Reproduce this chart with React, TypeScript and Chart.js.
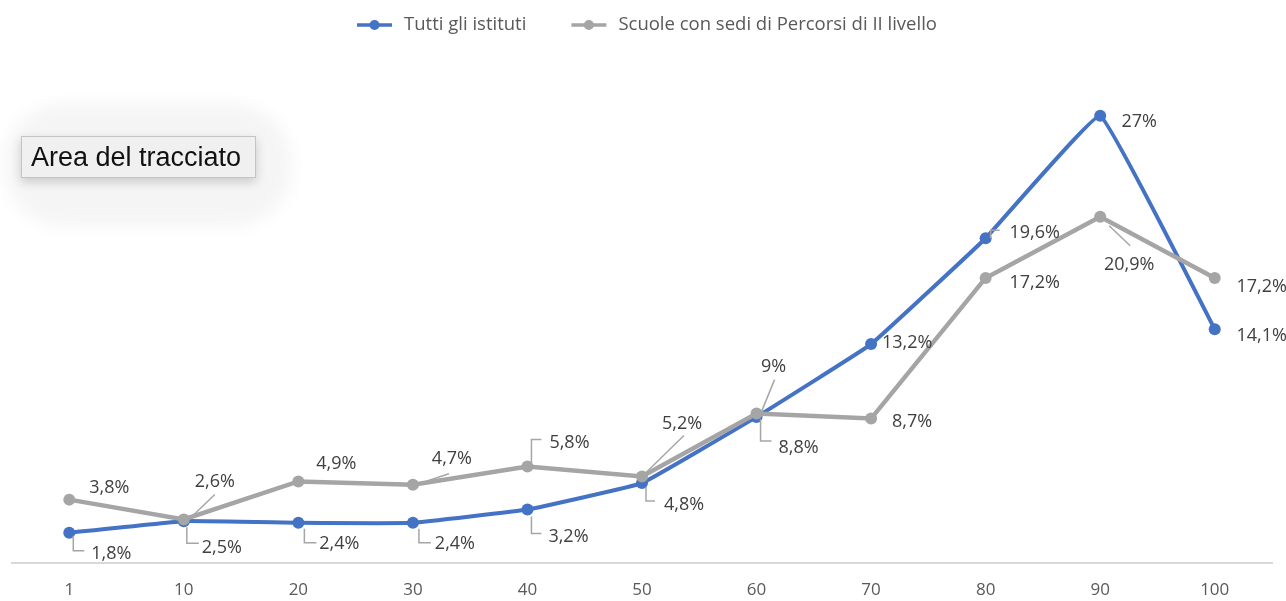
import { useEffect, useRef } from "react";
import { Chart, registerables } from "chart.js";

Chart.register(...registerables);

// ---- data ----
const categories = ["1", "10", "20", "30", "40", "50", "60", "70", "80", "90", "100"];
const tuttiValues = [1.8, 2.5, 2.4, 2.4, 3.2, 4.8, 8.8, 13.2, 19.6, 27, 14.1];
const scuoleValues = [3.8, 2.6, 4.9, 4.7, 5.8, 5.2, 9, 8.7, 17.2, 20.9, 17.2];
const seriesNames = ["Tutti gli istituti", "Scuole con sedi di Percorsi di II livello"];
const seriesColors = ["#4472C4", "#A5A5A5"];
const overlayText = "Area del tracciato";

// ---- data label layout (offsets relative to each point) ----
type LabelLayout = { dx: number; dy: number; leader?: number[][] };
const tuttiLabels: LabelLayout[] = [
  { dx: 42, dy: 21, leader: [[4, 3], [4, 18], [15, 18]] },
  { dx: 38, dy: 27, leader: [[3, 6], [3, 22], [15, 22]] },
  { dx: 41, dy: 21, leader: [[6, 6], [6, 20], [18, 20]] },
  { dx: 42, dy: 21, leader: [[6, 6], [6, 20], [18, 20]] },
  { dx: 41, dy: 27, leader: [[4, 7], [4, 24], [14, 24]] },
  { dx: 42, dy: 22, leader: [[4, 4], [4, 18], [13, 18]] },
  { dx: 42, dy: 31, leader: [[4, 2], [4, 24], [15, 24]] },
  { dx: 36, dy: -1 },
  { dx: 49, dy: -5, leader: [[5, 0], [5, -8], [14, -8]] },
  { dx: 39, dy: 6 },
  { dx: 47, dy: 7 },
];
const scuoleLabels: LabelLayout[] = [
  { dx: 40, dy: -12 },
  { dx: 31, dy: -38, leader: [[5, 0], [31, -25]] },
  { dx: 38, dy: -18 },
  { dx: 39, dy: -26, leader: [[6, -1], [36, -11]] },
  { dx: 42, dy: -24, leader: [[4, -4], [4, -27], [14, -27]] },
  { dx: 40, dy: -53, leader: [[3, -3], [42, -41]] },
  { dx: 17, dy: -47, leader: [[5, -2], [18, -34]] },
  { dx: 41, dy: 3 },
  { dx: 49, dy: 5 },
  { dx: 29, dy: 48, leader: [[9, 9], [30, 29]] },
  { dx: 47, dy: 9 },
];
const labelLayouts = [tuttiLabels, scuoleLabels];

const fmt = (v: number) => String(v).replace(".", ",") + "%";

const LABEL_FONT = '18px "Open Sans"';
const LEGEND_FONT = '18.5px "Open Sans"';

const pointLabelPlugin = {
  id: "pointLabels",
  afterDatasetsDraw(chart: any) {
    const ctx = chart.ctx as CanvasRenderingContext2D;
    ctx.save();
    chart.data.datasets.forEach((ds: any, di: number) => {
      const meta = chart.getDatasetMeta(di);
      const layout = labelLayouts[di];
      meta.data.forEach((pt: any, i: number) => {
        const L = layout[i];
        if (!L) return;
        const x = pt.x;
        const y = pt.y;
        if (L.leader) {
          ctx.strokeStyle = "#A6A6A6";
          ctx.lineWidth = 1.5;
          ctx.beginPath();
          L.leader.forEach(([dx, dy], k) => {
            if (k === 0) ctx.moveTo(x + dx, y + dy);
            else ctx.lineTo(x + dx, y + dy);
          });
          ctx.stroke();
        }
        ctx.fillStyle = "#404040";
        ctx.font = LABEL_FONT;
        ctx.textAlign = "center";
        ctx.textBaseline = "middle";
        ctx.fillText(fmt(ds.data[i]), x + L.dx, y + L.dy);
      });
    });
    ctx.restore();
  },
};

// custom legend: line + dot sample followed by the series name
const legendPlugin = {
  id: "lineLegend",
  afterDraw(chart: any) {
    const ctx = chart.ctx as CanvasRenderingContext2D;
    ctx.save();
    ctx.font = LEGEND_FONT;
    const sampleW = 35;
    const gapText = 12;
    const gapItem = 45;
    const names = chart.data.datasets.map((d: any) => d.label as string);
    const widths = names.map((n: string) => ctx.measureText(n).width);
    const total = widths.reduce((a: number, w: number) => a + sampleW + gapText + w, 0) + gapItem * (names.length - 1);
    let x = 647 - total / 2;
    const y = 25;
    names.forEach((n: string, i: number) => {
      const color = chart.data.datasets[i].borderColor;
      ctx.strokeStyle = color;
      ctx.lineWidth = 3.5;
      ctx.beginPath();
      ctx.moveTo(x, y);
      ctx.lineTo(x + sampleW, y);
      ctx.stroke();
      ctx.fillStyle = color;
      ctx.beginPath();
      ctx.arc(x + sampleW / 2, y, 5, 0, Math.PI * 2);
      ctx.fill();
      ctx.fillStyle = "#595959";
      ctx.textAlign = "left";
      ctx.textBaseline = "middle";
      ctx.fillText(n, x + sampleW + gapText, y);
      x += sampleW + gapText + widths[i] + gapItem;
    });
    ctx.restore();
  },
};

export default function App() {
  const ref = useRef<HTMLCanvasElement | null>(null);

  useEffect(() => {
    if (!ref.current) return;
    const chart = new Chart(ref.current, {
      type: "line",
      data: {
        labels: categories,
        datasets: [
          {
            label: seriesNames[0],
            data: tuttiValues,
            borderColor: seriesColors[0],
            backgroundColor: seriesColors[0],
            borderWidth: 4,
            pointRadius: 6,
            pointBorderWidth: 0,
            tension: 0.07,
            order: 1,
          },
          {
            label: seriesNames[1],
            data: scuoleValues,
            borderColor: seriesColors[1],
            backgroundColor: seriesColors[1],
            borderWidth: 4.5,
            pointRadius: 6,
            pointBorderWidth: 0,
            tension: 0,
            order: 0,
          },
        ],
      },
      options: {
        responsive: false,
        animation: false,
        events: [],
        layout: { padding: { left: 12, right: 14, top: 43, bottom: -17.5 } },
        plugins: {
          tooltip: { enabled: false },
          legend: { display: false },
        },
        scales: {
          x: {
            offset: true,
            grid: { display: false, drawTicks: false },
            border: { display: true, color: "#D9D9D9", width: 2 },
            ticks: {
              color: "#595959",
              font: { family: "Open Sans", size: 17, lineHeight: 1 },
              padding: 19.5,
            },
          },
          y: {
            display: false,
            min: 0,
            max: 31.4,
          },
        },
      },
      plugins: [pointLabelPlugin, legendPlugin],
    });
    return () => chart.destroy();
  }, []);

  return (
    <div style={{ position: "absolute", left: 0, top: 0, width: 1286, height: 601, background: "#fff" }}>
      <canvas ref={ref} width={1286} height={601} style={{ display: "block" }} />
      <div
        style={{
          position: "absolute",
          left: 4,
          top: 104,
          width: 288,
          height: 122,
          borderRadius: 60,
          background: "#f5f5f5",
          filter: "blur(8px)",
          pointerEvents: "none",
        }}
      />
      <div
        style={{
          position: "absolute",
          left: 21,
          top: 136,
          width: 235,
          height: 42,
          background: "#F0F0F0",
          border: "1px solid #C4C4C4",
          boxShadow: "0 4px 10px rgba(0,0,0,0.18)",
          fontFamily: '"Liberation Sans", Arial, sans-serif',
          fontSize: 27,
          color: "#111",
          lineHeight: "40px",
          paddingLeft: 9,
          boxSizing: "border-box",
          whiteSpace: "nowrap",
        }}
      >
        {overlayText}
      </div>
    </div>
  );
}
